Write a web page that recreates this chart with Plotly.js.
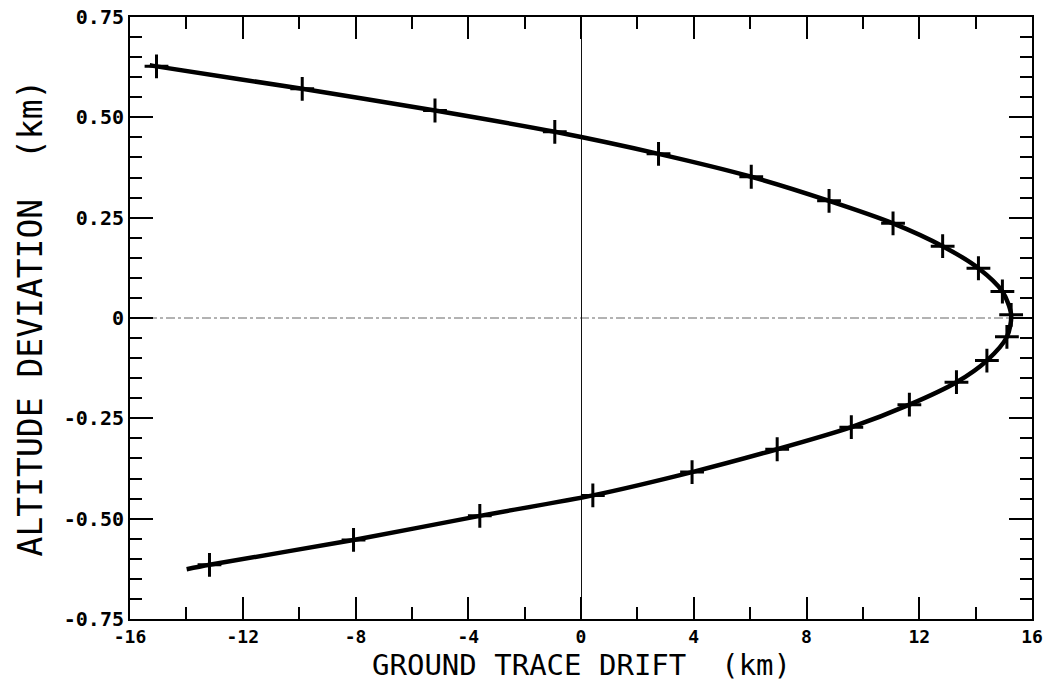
<!DOCTYPE html>
<html>
<head>
<meta charset="utf-8">
<script src="https://cdn.plot.ly/plotly-3.0.1.min.js"></script>
<style>
  html, body { margin: 0; padding: 0; background: #ffffff; }
  #chart { width: 1055px; height: 683px; }
</style>
</head>
<body>
<div id="chart"></div>
<script>
// Ground trace drift (km) vs altitude deviation (km)
const markerX = [-15.06, -9.89, -5.18, -0.93, 2.75, 6.04, 8.80, 11.07, 12.83, 14.10, 14.95, 15.26,
                 15.11, 14.40, 13.32, 11.65, 9.59, 6.96, 3.94, 0.42, -3.59, -8.07, -13.18];
const markerY = [0.627, 0.571, 0.517, 0.464, 0.409, 0.352, 0.292, 0.236, 0.179, 0.124, 0.066, 0.008,
                 -0.047, -0.106, -0.160, -0.216, -0.272, -0.327, -0.384, -0.442, -0.493, -0.553, -0.615];
// curve end points (line extends slightly past the outer markers)
const curveStartX = [-15.3];
const curveStartY = [0.630];
const curveEndX = [-13.99];
const curveEndY = [-0.626];

const xTickVals = [-16, -12, -8, -4, 0, 4, 8, 12, 16];
const xTickText = ["-16", "-12", "-8", "-4", "0", "4", "8", "12", "16"];
const yTickVals = [0.75, 0.5, 0.25, 0, -0.25, -0.5, -0.75];
const yTickText = ["0.75", "0.50", "0.25", "0", "-0.25", "-0.50", "-0.75"];
const xTitle = "GROUND TRACE DRIFT  (km)";
const yTitle = "ALTITUDE DEVIATION  (km)";

const lineX = curveStartX.concat(markerX, curveEndX);
const lineY = curveStartY.concat(markerY, curveEndY);

const tickFont = { family: "DejaVu Sans Mono, monospace", size: 20, color: "#000", weight: "bold" };
const xTickFont = { family: "DejaVu Sans Mono, monospace", size: 18, color: "#000", weight: "bold" };
const titleFont = { family: "DejaVu Sans Mono, monospace", size: 33, color: "#000" };
const xTitleFont = { family: "DejaVu Sans Mono, monospace", size: 29, color: "#000" };

const traces = [
  {
    x: lineX, y: lineY, type: "scatter", mode: "lines",
    line: { color: "#000", width: 4.5, shape: "spline", smoothing: 0.8 },
    hoverinfo: "skip", showlegend: false
  },
  {
    x: markerX, y: markerY, type: "scatter", mode: "markers",
    marker: { symbol: "cross-thin-open", size: 17, color: "#000", line: { color: "#000", width: 3 } },
    showlegend: false
  }
];

const layout = {
  width: 1055, height: 683,
  paper_bgcolor: "#ffffff", plot_bgcolor: "#ffffff",
  margin: { l: 130, r: 23, t: 17, b: 64 },
  showlegend: false,
  xaxis: {
    range: [-16, 16], autorange: false,
    tickmode: "array", tickvals: xTickVals, ticktext: xTickText,
    ticks: "inside", ticklen: 22, tickwidth: 2, tickcolor: "#000",
    minor: { tickmode: "linear", tick0: 0, dtick: 2, ticks: "inside", ticklen: 12, tickwidth: 2, tickcolor: "#000", showgrid: false },
    showline: true, linecolor: "#000", linewidth: 2, mirror: "ticks",
    showgrid: false,
    zeroline: true, zerolinecolor: "#111", zerolinewidth: 1,
    tickfont: xTickFont,
    automargin: false
  },
  yaxis: {
    range: [-0.75, 0.75], autorange: false,
    tickmode: "array", tickvals: yTickVals, ticktext: yTickText,
    ticks: "inside", ticklen: 23, tickwidth: 2, tickcolor: "#000",
    minor: { tickmode: "linear", tick0: 0, dtick: 0.05, ticks: "inside", ticklen: 12, tickwidth: 2, tickcolor: "#000", showgrid: false },
    showline: true, linecolor: "#000", linewidth: 2, mirror: "ticks",
    showgrid: false,
    zeroline: false,
    tickfont: tickFont,
    automargin: false,
    title: { text: yTitle, font: titleFont, standoff: 11 }
  },
  annotations: [
    {
      text: xTitle, xref: "paper", yref: "paper", x: 0.5, y: 0,
      xanchor: "center", yanchor: "top", yshift: -28, showarrow: false,
      font: xTitleFont, borderpad: 0
    }
  ],
  shapes: [
    {
      type: "line", xref: "paper", yref: "y", x0: 0, x1: 0.985, y0: 0, y1: 0,
      line: { color: "#666", width: 1, dash: "dashdot" }, layer: "below"
    }
  ]
};

Plotly.newPlot("chart", traces, layout, { displayModeBar: false, staticPlot: true });
</script>
</body>
</html>
